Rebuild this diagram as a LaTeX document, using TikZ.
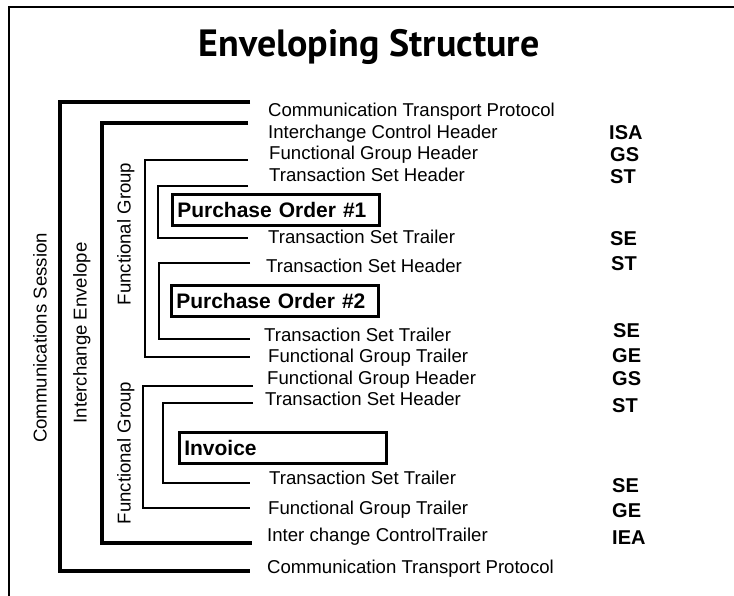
\documentclass[tikz,border=0pt]{standalone}
\usepackage{fontspec}
\setmainfont{Liberation Sans}
\newfontfamily\titlefont{PT Sans}
\begin{document}
\begin{tikzpicture}[x=1pt,y=-1pt,
  lbl/.style={anchor=west, inner sep=0pt, font=\fontsize{18.6}{20}\selectfont, text height=13.4pt, text depth=0pt},
  code/.style={anchor=west, inner sep=0pt, font=\fontsize{20}{22}\selectfont\bfseries, text height=14.4pt, text depth=0pt},
  vlbl/.style={inner sep=0pt, rotate=90, font=\fontsize{18.6}{20}\selectfont, text height=13.4pt, text depth=0pt},
  msg/.style={draw, line width=2.6pt, anchor=north west, inner xsep=5pt, inner ysep=0pt, text width=197pt, align=left, minimum height=31pt, font=\fontsize{21}{23}\selectfont\bfseries},
  frame/.style={line width=2.6pt},
  sess/.style={line width=4.6pt, line join=miter},
  env/.style={line width=4pt, line join=miter},
  grp/.style={line width=2.3pt, line join=miter},
  tset/.style={line width=2.3pt, line join=miter}
]
\useasboundingbox (0,0) rectangle (734,596);
\fill[white] (0,0) rectangle (734,596);
% frame
\coordinate (fa) at (9,610);
\coordinate (fb) at (9,7);
\coordinate (fc) at (750,7);
\draw[frame] (fa) -- (fb) -- (fc);

\node[anchor=base, inner sep=0pt, font=\titlefont\fontsize{38}{40}\selectfont\bfseries] (title) at (369,57) {Enveloping Structure};

% labels
\node[lbl] (l1) at (268,110) {Communication Transport Protocol};
\node[lbl] (l2) at (268,132) {Interchange Control Header};
\node[lbl] (l3) at (269,153) {Functional Group Header};
\node[lbl] (l4) at (269,175) {Transaction Set Header};
\node[lbl] (l5) at (268,237) {Transaction Set Trailer};
\node[lbl] (l6) at (266,266) {Transaction Set Header};
\node[lbl] (l7) at (264,335) {Transaction Set Trailer};
\node[lbl] (l8) at (268,356) {Functional Group Trailer};
\node[lbl] (l9) at (267,378) {Functional Group Header};
\node[lbl] (l10) at (265,399) {Transaction Set Header};
\node[lbl] (l11) at (269,478) {Transaction Set Trailer};
\node[lbl] (l12) at (268,508) {Functional Group Trailer};
\node[lbl] (l13) at (267,535) {Inter change ControlTrailer};
\node[lbl] (l14) at (267,567) {Communication Transport Protocol};

% codes
\node[code] (c1) at (609,132) {ISA};
\node[code] (c2) at (610,154) {GS};
\node[code] (c3) at (610,176) {ST};
\node[code] (c4) at (610,238) {SE};
\node[code] (c5) at (611,263) {ST};
\node[code] (c6) at (613,330) {SE};
\node[code] (c7) at (612,355) {GE};
\node[code] (c8) at (612,378) {GS};
\node[code] (c9) at (612,405) {ST};
\node[code] (c10) at (612,485) {SE};
\node[code] (c11) at (612,510) {GE};
\node[code] (c12) at (612,537) {IEA};

% message boxes
\node[msg] (po1) at (171,193) {Purchase Order \#1};
\node[msg] (po2) at (170,284) {Purchase Order \#2};
\node[msg] (inv) at (178,431) {Invoice};

% vertical labels
\node[vlbl] (vs) at (40,338) {Communications Session};
\node[vlbl] (ve) at (80,333) {Interchange Envelope};
\node[vlbl] (vg1) at (124,234) {Functional Group};
\node[vlbl] (vg2) at (124,453) {Functional Group};

% bracket coordinates
\coordinate (s1) at (250,102);  \coordinate (s2) at (60,571);  \coordinate (s3) at (250,571);
\coordinate (e1) at (248,123);  \coordinate (e2) at (102,543); \coordinate (e3) at (252,543);
\coordinate (g1) at (248,160);  \coordinate (g2) at (145,357); \coordinate (g3) at (250,357);
\coordinate (t1) at (248,186);  \coordinate (t2) at (158,238); \coordinate (t3) at (248,238);
\coordinate (u1) at (250,263);  \coordinate (u2) at (159,339); \coordinate (u3) at (250,339);
\coordinate (h1) at (253,386);  \coordinate (h2) at (143,508); \coordinate (h3) at (250,508);
\coordinate (k1) at (253,403);  \coordinate (k2) at (163,483); \coordinate (k3) at (250,483);

\draw[sess] (s1) -| (s2) -- (s3);
\draw[env]  (e1) -| (e2) -- (e3);
\draw[grp]  (g1) -| (g2) -- (g3);
\draw[tset] (t1) -| (t2) -- (t3);
\draw[tset] (u1) -| (u2) -- (u3);
\draw[grp]  (h1) -| (h2) -- (h3);
\draw[tset] (k1) -| (k2) -- (k3);
\end{tikzpicture}
\end{document}
